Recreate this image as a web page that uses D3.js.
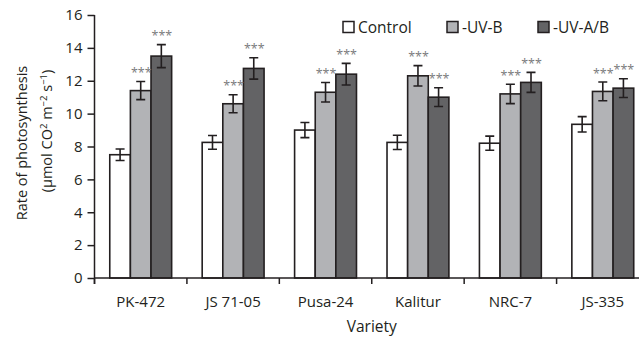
<!DOCTYPE html>
<html>
<head>
<meta charset="utf-8">
<script src="https://cdn.jsdelivr.net/npm/d3@7"></script>
<style>
  html, body { margin: 0; padding: 0; background: #fff; }
  svg { display: block; font-family: "Open Sans", "Noto Sans", sans-serif; }
</style>
</head>
<body>
<svg id="chart" width="639" height="340"></svg>
<script>
// Photosynthesis rate per soybean variety under three light treatments
const varieties = ["PK-472", "JS 71-05", "Pusa-24", "Kalitur", "NRC-7", "JS-335"];
const treatments = ["Control", "-UV-B", "-UV-A/B"];

const controlMean = [7.5, 8.25, 9.0, 8.25, 8.2, 9.35];
const controlErr  = [0.35, 0.42, 0.46, 0.43, 0.43, 0.47];
const uvbMean     = [11.4, 10.6, 11.3, 12.3, 11.2, 11.35];
const uvbErr      = [0.55, 0.55, 0.59, 0.62, 0.59, 0.57];
const uvabMean    = [13.5, 12.75, 12.4, 11.0, 11.9, 11.55];
const uvabErr     = [0.7, 0.65, 0.66, 0.57, 0.61, 0.57];
// significance marks per treatment ("" = none)
const controlSig = ["", "", "", "", "", ""];
const uvbSig     = ["***", "***", "***", "***", "***", "***"];
const uvabSig    = ["***", "***", "***", "***", "***", "***"];

const yTicks = [0, 2, 4, 6, 8, 10, 12, 14, 16];

const fills = ["#ffffff", "#b2b3b6", "#636365"];
const ink = "#231f20";

const svg = d3.select("#chart");

const x = d3.scaleBand().domain(varieties).range([94.5, 649]).padding(0);
const xInner = d3.scaleBand().domain(treatments).range([0, x.bandwidth()])
  .paddingInner(0).paddingOuter(0.74);
const y = d3.scaleLinear().domain([0, 16]).range([278, 15]);

const means = [controlMean, uvbMean, uvabMean];
const errs = [controlErr, uvbErr, uvabErr];
const sigs = [controlSig, uvbSig, uvabSig];

const rows = [];
varieties.forEach((v, i) => {
  treatments.forEach((t, j) => {
    rows.push({ variety: v, treatment: t, idx: j,
      mean: means[j][i], err: errs[j][i], sig: sigs[j][i] });
  });
});

// bars
svg.append("g").selectAll("rect").data(rows).join("rect")
  .attr("x", d => x(d.variety) + xInner(d.treatment))
  .attr("y", d => y(d.mean))
  .attr("width", xInner.bandwidth())
  .attr("height", d => y(0) - y(d.mean))
  .attr("fill", d => fills[d.idx])
  .attr("stroke", ink)
  .attr("stroke-width", 1.6);

// error bars
const eb = svg.append("g").attr("stroke", ink).attr("stroke-width", 1.6).attr("fill", "none");
const cx = d => x(d.variety) + xInner(d.treatment) + xInner.bandwidth() / 2;
const capW = 4.5;
eb.selectAll("path").data(rows).join("path")
  .attr("d", d => {
    const c = cx(d), t = y(d.mean + d.err), b = y(d.mean - d.err);
    return `M${c},${t}V${b}M${c - capW},${t}H${c + capW}M${c - capW},${b}H${c + capW}`;
  });

// significance asterisks
svg.append("g").selectAll("text").data(rows.filter(d => d.sig)).join("text")
  .attr("x", d => cx(d) + 0.5)
  .attr("y", d => y(d.mean + d.err) - 4.5)
  .attr("text-anchor", "middle")
  .attr("font-size", 12.5)
  .attr("fill", "#7a7a7c")
  .text(d => d.sig);

// y axis
const yAxis = svg.append("g")
  .attr("transform", `translate(${x.range()[0]},0)`)
  .call(d3.axisLeft(y).tickValues(yTicks).tickSize(7).tickPadding(5).tickSizeOuter(0));
yAxis.select(".domain").attr("stroke", ink).attr("stroke-width", 1.5)
  .attr("d", `M0,${y(16)}V${y(0) + 6}`);
yAxis.selectAll(".tick line").attr("stroke", ink).attr("stroke-width", 1.5);
yAxis.selectAll(".tick text").attr("font-size", 15).attr("fill", ink)
  .attr("font-family", "'Open Sans', sans-serif");

// x axis with ticks between categories
const xAxisG = svg.append("g").attr("transform", `translate(0,${y(0)})`);
xAxisG.append("line")
  .attr("x1", x.range()[0]).attr("x2", x.range()[1])
  .attr("stroke", ink).attr("stroke-width", 1.5);
xAxisG.selectAll(".sep").data(varieties).join("line")
  .attr("class", "sep")
  .attr("x1", d => x(d)).attr("x2", d => x(d))
  .attr("y1", 0).attr("y2", 6)
  .attr("stroke", ink).attr("stroke-width", 1.5);
xAxisG.selectAll(".lbl").data(varieties).join("text")
  .attr("class", "lbl")
  .attr("x", d => x(d) + x.bandwidth() / 2)
  .attr("y", 29)
  .attr("text-anchor", "middle")
  .attr("font-size", 15)
  .attr("fill", ink)
  .text(d => d);

// axis titles
svg.append("text")
  .attr("x", (x.range()[0] + x.range()[1]) / 2)
  .attr("y", 332)
  .attr("text-anchor", "middle")
  .attr("font-size", 15.5)
  .attr("fill", ink)
  .text("Variety");

svg.append("text")
  .attr("transform", "translate(27,143) rotate(-90)")
  .attr("text-anchor", "middle")
  .attr("font-size", 14.5)
  .attr("fill", ink)
  .text("Rate of photosynthesis");

const unit = svg.append("text")
  .attr("transform", "translate(52,131) rotate(-90)")
  .attr("text-anchor", "middle")
  .attr("font-size", 14.5)
  .attr("fill", ink);
const unitParts = [
  ["(\u00b5mol CO", false], ["2", true], [" m", false], ["\u22122", true],
  [" s", false], ["\u22121", true], [")", false]
];
let raised = false;
unitParts.forEach(([t, sup]) => {
  const span = unit.append("tspan").text(t);
  if (sup) {
    span.attr("font-size", 9.5).attr("dy", raised ? 0 : -5);
    raised = true;
  } else {
    span.attr("dy", raised ? 5 : 0);
    raised = false;
  }
});

// legend
const legendX = [343, 447, 538];
const lg = svg.append("g");
treatments.forEach((t, j) => {
  lg.append("rect")
    .attr("x", legendX[j]).attr("y", 21.5)
    .attr("width", 11).attr("height", 11)
    .attr("fill", fills[j]).attr("stroke", ink).attr("stroke-width", 1.5);
  lg.append("text")
    .attr("x", legendX[j] + 15).attr("y", 32.5)
    .attr("font-size", 15.5).attr("fill", ink)
    .text(t);
});
</script>
</body>
</html>
